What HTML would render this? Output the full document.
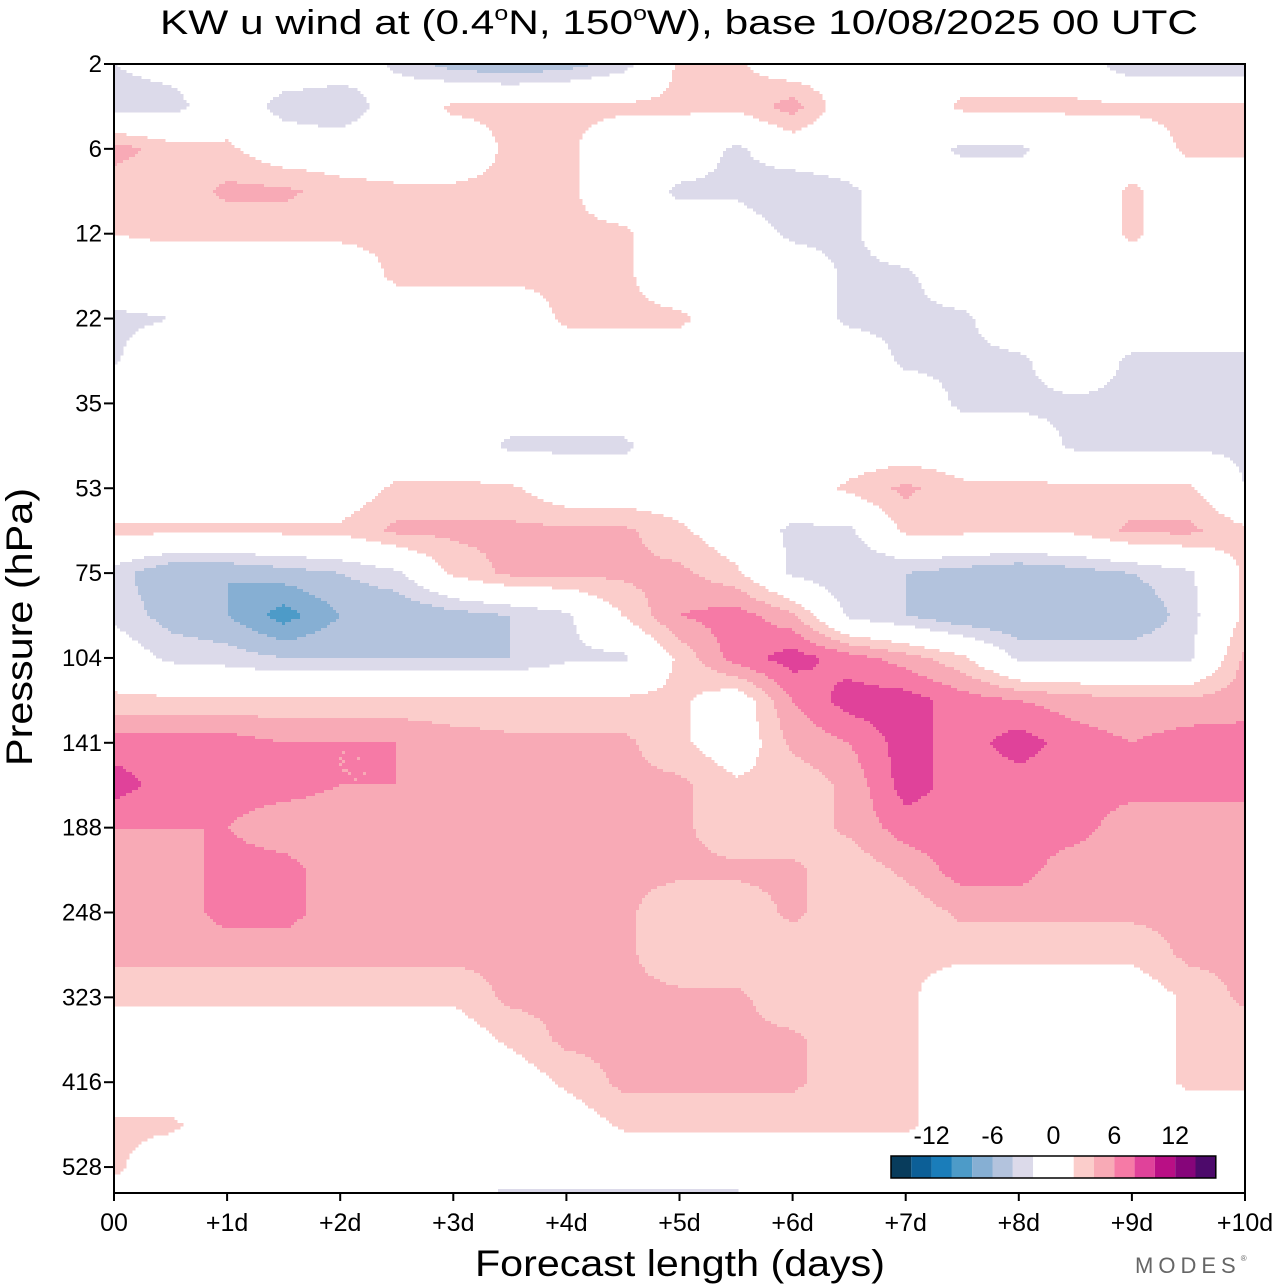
<!DOCTYPE html>
<html><head><meta charset="utf-8"><style>
html,body{margin:0;padding:0;background:#fff;}
svg{display:block;font-family:"Liberation Sans",sans-serif;}
</style></head><body>
<svg id="chart" width="1280" height="1286" viewBox="0 0 1280 1286" xmlns="http://www.w3.org/2000/svg">
<text x="160" y="34" font-size="34" textLength="1038" lengthAdjust="spacingAndGlyphs">KW u wind at (0.4<tspan font-size="20" dy="-14">o</tspan><tspan dy="14">N, 150</tspan><tspan font-size="20" dy="-14">o</tspan><tspan dy="14">W),  base 10/08/2025  00 UTC</tspan></text>
<g id="field"></g>
<g id="axes"></g>
<g id="cbar"></g>
<text x="475" y="1276" font-size="37" textLength="410" lengthAdjust="spacingAndGlyphs">Forecast length (days)</text>
<text transform="translate(32,766) rotate(-90)" font-size="37" textLength="278" lengthAdjust="spacingAndGlyphs">Pressure (hPa)</text>
<text x="1135" y="1273" font-size="22" fill="#666" letter-spacing="5">MODES<tspan font-size="8" dy="-12">®</tspan></text>
</svg>
<script>
// Data: forecast days (columns), pressure level rows, u wind values (m/s)
const days = [0,0.5,1,1.5,2,2.5,3,3.5,4,4.5,5,5.5,6,6.5,7,7.5,8,8.5,9,9.5,10];
const pTicks = [2,6,12,22,35,53,75,104,141,188,248,323,416,528];
const xTickLabels = ["00","+1d","+2d","+3d","+4d","+5d","+6d","+7d","+8d","+9d","+10d"];
const levels = [-14,-12,-10,-8,-6,-4,-2,2,4,6,8,10,12,14];
const cbarLabels = [-12,-6,0,6,12];
const colors = ["#083c5c","#0c5f97","#1a7dba","#4d9bc8","#86afd3","#b3c3dd","#dcdaea","#ffffff","#fbcdcb","#f8aab6","#f67aa6","#e0429a","#b90f85","#86057a","#4d0a6b"];
// rows are at half-tick pressure spacing (row index / 2 = tick index)
const u = [
[-2,-1,0,0,0,-2.5,-5,-6,-5,-3,2.5,2.5,0,1,0,0,0,0,-4,-4,-4],
[-3,-3,0,-3,-4,0,2.5,2.5,2.5,2.5,2.5,2.5,5,0,0,2.5,2.5,2.5,2.5,2.5,2.5],
[5,3,2.5,0,0,0,0,2.5,2.5,0,0,-2.5,0,0,0,-2.5,-2.5,0,0,2.5,2.5],
[2.5,2.5,4.5,4.5,3,2.5,2.5,2.5,2.5,0,-2.5,-2.5,-4,-2.5,0,0,0,0,2.5,0,0],
[2,2.5,2.5,2.5,2.5,2.5,3,2.5,2.5,2.5,0,0,-2.5,-2.5,0,0,0,0,2.5,0,2],
[0,0,0,0,0,2.5,2.5,2.5,2.5,2.5,0,0,0,-2.5,-2.5,0,0,0,0,0,0],
[-2.5,-2,0,0,0,0,0,0,2.5,2.5,2.5,0,0,-2.5,-2.5,-2.5,0,0,0,0,0],
[-2.2,0,0,0,0,0,0,0,0,0,0,0,0,0,-2.5,-2.5,-2.5,0,-2.5,-2.5,-2.5],
[0,0,0,0,0,0,0,0,0,0,0,0,0,0,0,-2.5,-2.5,-2.5,-2.5,-2.5,-2.5],
[0,0,0,0,0,0,0,-2.5,-2.5,-2.5,0,0,0,0,0,0,0,-2.5,-2.5,-2.5,-2.5],
[0,0,0,0,0,2.5,2.5,2.5,0,0,0,0,0,2.5,4.5,2.5,2.5,2.5,2.5,2.5,-2],
[2.5,2.5,2.5,2.5,2.5,4.5,4.5,4.5,4.5,4.5,2.5,0,-2.5,-2.5,2.5,2.5,2.5,2.5,4.5,4.5,2.5],
[-3,-6,-6,-5,-4,-2.5,2.5,4.5,4.5,4.5,4.5,2.5,-2.5,-4,-4,-5,-6,-5,-4,-2.5,2.5],
[-2.5,-5,-6,-9,-6,-6,-5,-4,-2.5,2,6,7,4.5,-2.5,-4,-6,-6,-6,-6,-3,2.5],
[0,-2.5,-3,-4,-4,-4,-4,-4,-2.5,-2.5,2.5,7,9,7,5,2.5,-2.5,-2.5,-2.5,-2.5,4.5],
[2.5,2.5,2.5,2.5,2.5,2.5,2.5,2.5,2.5,2.5,2.5,0,6,9,9,7,6,5,4.5,4.5,5],
[7,7,7,6,6,6,5,4.5,4.5,4.5,2.5,0,4.5,6,9,7,9,7,6,7,7],
[9,7,7,7,6,6,6,4.5,4.5,4.5,4.5,2.5,2.5,4.5,9,7,7,7,7,7,7],
[6,6,6,4.5,4.5,4.5,4.5,4.5,4.5,4.5,4.5,2.5,2.5,4.5,7,7,7,7,4.5,4.5,4.5],
[4.5,4.5,7,7,4.5,4.5,4.5,4.5,4.5,4.5,4.5,4.5,4.5,2.5,4.5,7,7,4.5,4.5,4.5,4.5],
[4.5,4.5,7,7,4.5,4.5,4.5,4.5,4.5,4.5,2.5,2.5,4.5,2.5,2.5,4.5,4.5,4.5,4.5,4.5,4.5],
[4.5,4.5,4.5,4.5,4.5,4.5,4.5,4.5,4.5,4.5,2.5,2.5,2.5,2.5,2.5,2.5,2.5,2.5,2.5,4.5,4.5],
[2.5,2.5,2.5,2.5,2.5,2.5,2.5,4.5,4.5,4.5,4.5,4.5,2.5,2.5,2.5,0,0,0,0,2.5,4.5],
[0,0,0,0,0,0,0,2.5,4.5,4.5,4.5,4.5,4.5,2.5,2.5,0,0,0,0,2.5,2.5],
[0,0,0,0,0,0,0,0,2.5,4.5,4.5,4.5,4.5,2.5,2.5,0,0,0,0,2.5,2.5],
[2.5,2.5,0,0,0,0,0,0,0,2.5,2.5,2.5,2.5,2.5,2.5,0,0,0,0,0,0],
[2.5,0,0,0,0,0,0,-1,-1,-1,-1,-1,0,0,0,0,0,0,0,0,0],
[0,0,0,0,0,0,-3,-3,-3,-3,-3,-3,0,0,-2,-2,0,0,0,0,0]
];

const NS="http://www.w3.org/2000/svg";
const X0=114,X1=1245,Y0=64,Y1=1193,TICKH=84.85;
function xScale(d){return X0+(d-days[0])/(days[days.length-1]-days[0])*(X1-X0);}
function yRow(r){return Y0+r*TICKH/2;}
function cls(v){let i=0;while(i<levels.length&&v>=levels[i])i++;return i;}
function sample(px,py){
  let fc=(px-X0)/(X1-X0)*(days.length-1);
  let fr=(py-Y0)/(TICKH/2);
  fc=Math.max(0,Math.min(days.length-1.0001,fc));
  fr=Math.max(0,Math.min(u.length-1.0001,fr));
  const c=Math.floor(fc),r=Math.floor(fr),tx=fc-c,ty=fr-r;
  const a=u[r][c],b=u[r][c+1],cc=u[r+1][c],d=u[r+1][c+1];
  return a*(1-tx)*(1-ty)+b*tx*(1-ty)+cc*(1-tx)*ty+d*tx*ty;
}
const field=document.getElementById('field');
const S=3;
for(let y=Y0;y<Y1;y+=S){
  let runStart=X0,runCls=cls(sample(X0+S/2,y+S/2));
  for(let x=X0;x<=X1;x+=S){
    const k= x+S>X1+S-1? -99 : cls(sample(x+S/2,y+S/2));
    if(k!==runCls || x+S>X1){
      const xe=Math.min(x+(x+S>X1?X1-x:0),X1);
      if(colors[runCls]!=="#ffffff"){
        const rc=document.createElementNS(NS,'rect');
        
        
        rc.setAttribute('x',runStart);rc.setAttribute('y',y);
        rc.setAttribute('width',Math.max(0,xe-runStart)+0.5);rc.setAttribute('height',Math.min(S,Y1-y)+0.5);
        rc.setAttribute('fill',colors[runCls]);
        field.appendChild(rc);
      }
      runStart=x;runCls=k;
    }
  }
}
const axes=document.getElementById('axes');
function add(parent,tag,attrs,text){const e=document.createElementNS(NS,tag);for(const k in attrs)e.setAttribute(k,attrs[k]);if(text!==undefined)e.textContent=text;parent.appendChild(e);return e;}
const frame=add(axes,'rect',{x:X0,y:Y0,width:X1-X0,height:Y1-Y0,fill:'none',stroke:'#000','stroke-width':2});


pTicks.forEach((p,i)=>{
  const y=yRow(i*2);
  const t=add(axes,'line',{x1:X0-10,x2:X0,y1:y,y2:y,stroke:'#000','stroke-width':2});
  
  
  const l=add(axes,'text',{x:X0-12,y:y+8,'font-size':24,'text-anchor':'end'},String(p));
  
  
});
xTickLabels.forEach((s,i)=>{
  const x=xScale(i);
  const t=add(axes,'line',{x1:x,x2:x,y1:Y1,y2:Y1+8,stroke:'#000','stroke-width':2});
  
  
  const l=add(axes,'text',{x:x,y:1231,'font-size':25,'text-anchor':'middle'},s);
  
  
});
// colorbar
const cb=document.getElementById('cbar');
const CB0=891,CBW=20.3,CBY=1156,CBH=22;
let cx=CB0;
colors.forEach((c,i)=>{
  const w=(c==="#ffffff")?2*CBW:CBW;
  const r=add(cb,'rect',{x:cx,y:CBY,width:w,height:CBH,fill:c});
  
  
  cx+=w;
});
const ob=add(cb,'rect',{x:CB0,y:CBY,width:cx-CB0,height:CBH,fill:'none',stroke:'#000','stroke-width':1.5});


const zeroX=CB0+7*CBW+CBW;
cbarLabels.forEach(v=>{
  const l=add(cb,'text',{x:zeroX+v/2*CBW,y:1144,'font-size':25,'text-anchor':'middle'},String(v));
  
  
});
</script>
</body></html>
